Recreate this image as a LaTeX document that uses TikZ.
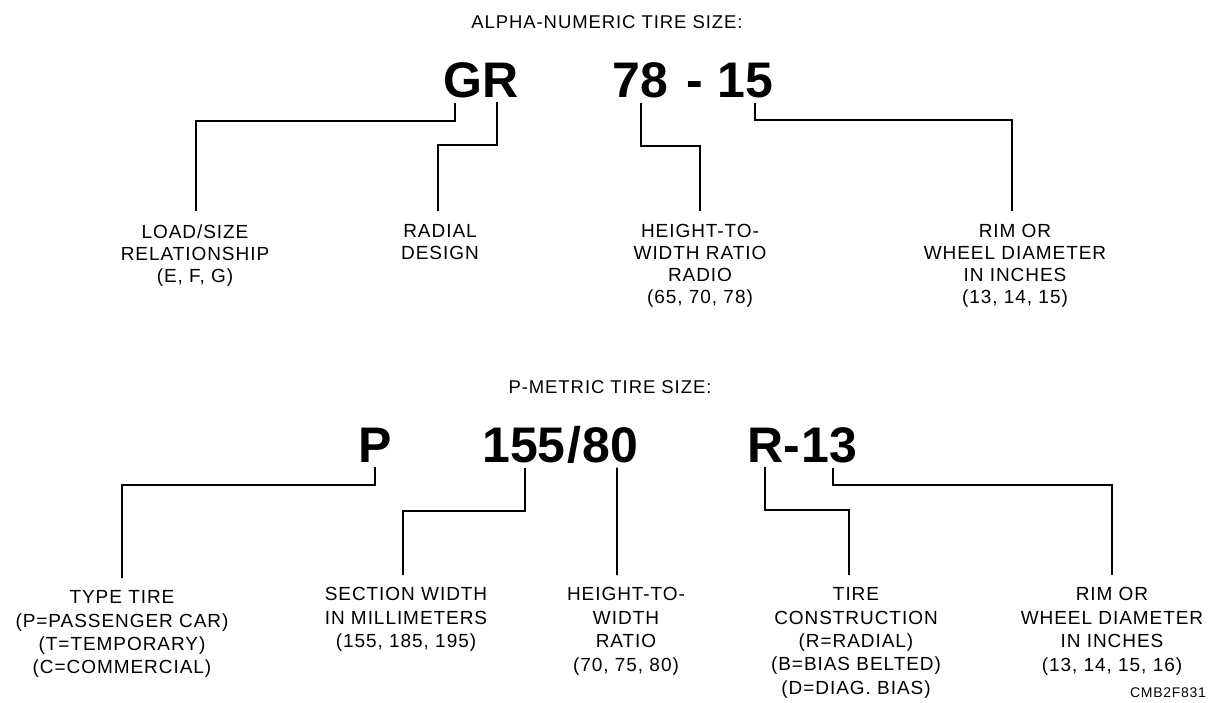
\documentclass[tikz,border=0pt]{standalone}
\usepackage{fontspec}
\newfontfamily\labfont[LetterSpace=5]{Liberation Sans}
\newfontfamily\codefont{Liberation Sans}
\begin{document}
\begin{tikzpicture}[x=1pt,y=-1pt,
  conn/.style={line width=1.8pt},
  code/.style={font=\codefont\bfseries\fontsize{50}{55}\selectfont, inner sep=0pt, anchor=base west},
  lblA/.style={font=\labfont\fontsize{19}{22}\selectfont, align=center, anchor=north, inner xsep=0pt, inner ysep=13.5pt},
  lblB/.style={font=\labfont\fontsize{19}{23.4}\selectfont, align=center, anchor=north, inner xsep=0pt, inner ysep=12.5pt},
  ttl/.style={font=\labfont\fontsize{18.5}{22}\selectfont, inner sep=0pt, anchor=base},
  tag/.style={font=\labfont\fontsize{14}{16}\selectfont, inner sep=0pt, anchor=base east}]
\fill[white] (0,0) rectangle (1211,702);
\useasboundingbox (0,0) rectangle (1211,702);

% ---------- alpha-numeric ----------
\node[ttl] (t1) at (607,28) {ALPHA-NUMERIC TIRE SIZE:};
\node[code] (G) at (443,97) {G};
\node[code] (R) at (482,97) {R};
\node[code] (n78) at (612,97) {78};
\node[code] (d1) at (686,97) {-};
\node[code] (n15) at (717,97) {15};

\node[lblA] (load) at (195,211) {LOAD/SIZE\\RELATIONSHIP\\(E, F, G)};
\node[lblA] (radial) at (440,211) {RADIAL\\DESIGN};
\node[lblA] (hw1) at (700,211) {HEIGHT-TO-\\WIDTH RATIO\\RADIO\\(65, 70, 78)};
\node[lblA] (rim1) at (1015,211) {RIM OR\\WHEEL DIAMETER\\IN INCHES\\(13, 14, 15)};

\draw[conn] ([xshift=-7.4pt,yshift=-5pt]G.south) -- ++(0,18) -| ([xshift=1pt]load.north);
\draw[conn] ([xshift=-3pt,yshift=-5pt]R.south) -- ++(0,43) -| ([xshift=-2pt]radial.north);
\draw[conn] ([xshift=1pt,yshift=-5pt]n78.south) -- ++(0,43) -| (hw1.north);
\draw[conn] ([xshift=10pt,yshift=-5pt]n15.south) -- ++(0,17) -| ([xshift=-3pt]rim1.north);

% ---------- P-metric ----------
\node[ttl] (t2) at (610,393) {P-METRIC TIRE SIZE:};
\node[code] (P) at (358,462) {P};
\node[code] (n155) at (482,462) {155};
\node[code] (sl) at (567,462) {/};
\node[code] (n80) at (582,462) {80};
\node[code] (R2) at (747,462) {R};
\node[code] (d2) at (783.1,462) {-};
\node[code] (n13) at (801,462) {13};

\node[lblB] (type) at (122,578) {TYPE TIRE\\(P=PASSENGER CAR)\\(T=TEMPORARY)\\(C=COMMERCIAL)};
\node[lblB] (sect) at (406,575) {SECTION WIDTH\\IN MILLIMETERS\\(155, 185, 195)};
\node[lblB] (hw2) at (626,575) {HEIGHT-TO-\\WIDTH\\RATIO\\(70, 75, 80)};
\node[lblB] (cons) at (856,575) {TIRE\\CONSTRUCTION\\(R=RADIAL)\\(B=BIAS BELTED)\\(D=DIAG. BIAS)};
\node[lblB] (rim2) at (1112,575) {RIM OR\\WHEEL DIAMETER\\IN INCHES\\(13, 14, 15, 16)};
\node[tag] (code) at (1206,697) {CMB2F831};

\draw[conn] ([xshift=0pt,yshift=-5pt]P.south) -- ++(0,18) -| (type.north);
\draw[conn] ([xshift=1pt,yshift=-5pt]n155.south) -- ++(0,43) -| ([xshift=-3pt]sect.north);
\draw[conn] ([xshift=7pt,yshift=-5pt]n80.south) -- ([xshift=-9pt]hw2.north);
\draw[conn] ([xshift=0pt,yshift=-5pt]R2.south) -- ++(0,43) -| ([xshift=-7pt]cons.north);
\draw[conn] ([xshift=4pt,yshift=-5pt]n13.south) -- ++(0,17) -| (rim2.north);
\end{tikzpicture}
\end{document}
